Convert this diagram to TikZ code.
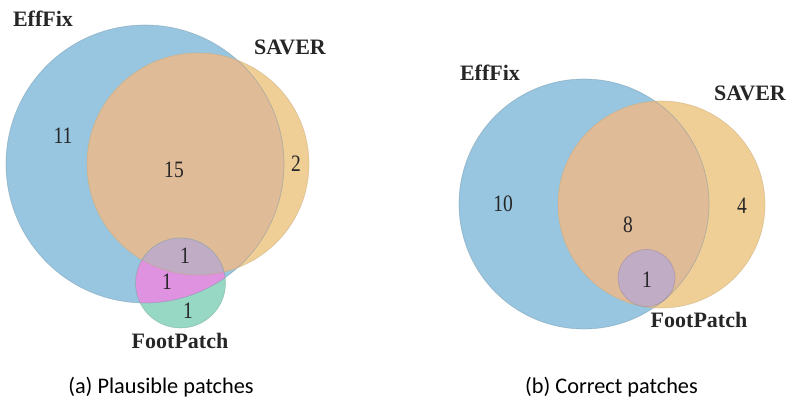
\documentclass[tikz,border=0pt]{standalone}
\usepackage{fontspec}
\setmainfont{Liberation Serif}
\newfontfamily\capfont{Carlito}
\newfontfamily\countfont[FakeStretch=0.83]{Liberation Serif}
\usetikzlibrary{positioning}
\definecolor{effblue}{HTML}{98C5DF}
\definecolor{savorange}{HTML}{F0CF96}
\definecolor{bothtan}{HTML}{DFBB98}
\definecolor{footgreen}{HTML}{97D8C4}
\definecolor{footpink}{HTML}{DF92DF}
\definecolor{allgray}{HTML}{C0ACC4}
\definecolor{inkgray}{HTML}{262626}
\tikzstyle{setname} = [font=\bfseries\fontsize{22}{22}\selectfont, text=inkgray]
\tikzstyle{count} = [font=\countfont\fontsize{23.5}{23.5}\selectfont, text=inkgray]
\tikzstyle{caption} = [font=\capfont\fontsize{22.3}{22.3}\selectfont, text=black, anchor=base]
\tikzstyle{rim} = [line width=0.7pt, opacity=0.45]

\begin{document}
\begin{tikzpicture}[x=1pt, y=-1pt]
  \useasboundingbox (0,0) rectangle (788,398);
  % (a) plausible patches
  \coordinate (effA) at (145,164);
  \coordinate (savA) at (198,164);
  \coordinate (footA) at (180.5,283);
  \fill[effblue] (effA) circle (139pt);
  \fill[savorange] (savA) circle (111pt);
  \begin{scope}
    \clip (effA) circle (139pt);
    \fill[bothtan] (savA) circle (111pt);
  \end{scope}
  \fill[footgreen] (footA) circle (45pt);
  \begin{scope}
    \clip (footA) circle (45pt);
    \fill[footpink] (effA) circle (139pt);
    \fill[allgray] (savA) circle (111pt);
  \end{scope}
  \draw[rim, effblue!75!black] (effA) circle (139pt);
  \draw[rim, savorange!80!black] (savA) circle (111pt);
  \draw[rim, footgreen!75!black] (footA) circle (45pt);
  \node[setname] (effNameA) at (43,19) {EffFix};
  \node[setname] (savNameA) at (290,47) {SAVER};
  \node[setname] (footNameA) at (180,341) {FootPatch};
  \node[count] (effOnlyA) at (63,136) {11};
  \node[count] (effSavA) at (174,170) {15};
  \node[count] (savOnlyA) at (296,164) {2};
  \node[count] (allA) at (185,256) {1};
  \node[count] (effFootA) at (167,282) {1};
  \node[count] (footOnlyA) at (188,311) {1};
  \node[caption] (capA) at (161,393.5) {(a) Plausible patches};

  % (b) correct patches
  \coordinate (effB) at (584,204);
  \coordinate (savB) at (661.5,204.5);
  \coordinate (footB) at (646.5,278);
  \fill[effblue] (effB) circle (125pt);
  \fill[savorange] (savB) circle (103.5pt);
  \begin{scope}
    \clip (effB) circle (125pt);
    \fill[bothtan] (savB) circle (103.5pt);
  \end{scope}
  \fill[allgray] (footB) circle (28.5pt);
  \draw[rim, effblue!75!black] (effB) circle (125pt);
  \draw[rim, savorange!80!black] (savB) circle (103.5pt);
  \draw[rim, allgray!75!black] (footB) circle (28.5pt);
  \node[setname] (effNameB) at (490,73) {EffFix};
  \node[setname] (savNameB) at (750,93) {SAVER};
  \node[setname] (footNameB) at (699,320) {FootPatch};
  \node[count] (effOnlyB) at (503,204) {10};
  \node[count] (effSavB) at (628,225) {8};
  \node[count] (savOnlyB) at (742,206) {4};
  \node[count] (allB) at (647,280) {1};
  \node[caption] (capB) at (611.5,393.5) {(b) Correct patches};
\end{tikzpicture}
\end{document}
